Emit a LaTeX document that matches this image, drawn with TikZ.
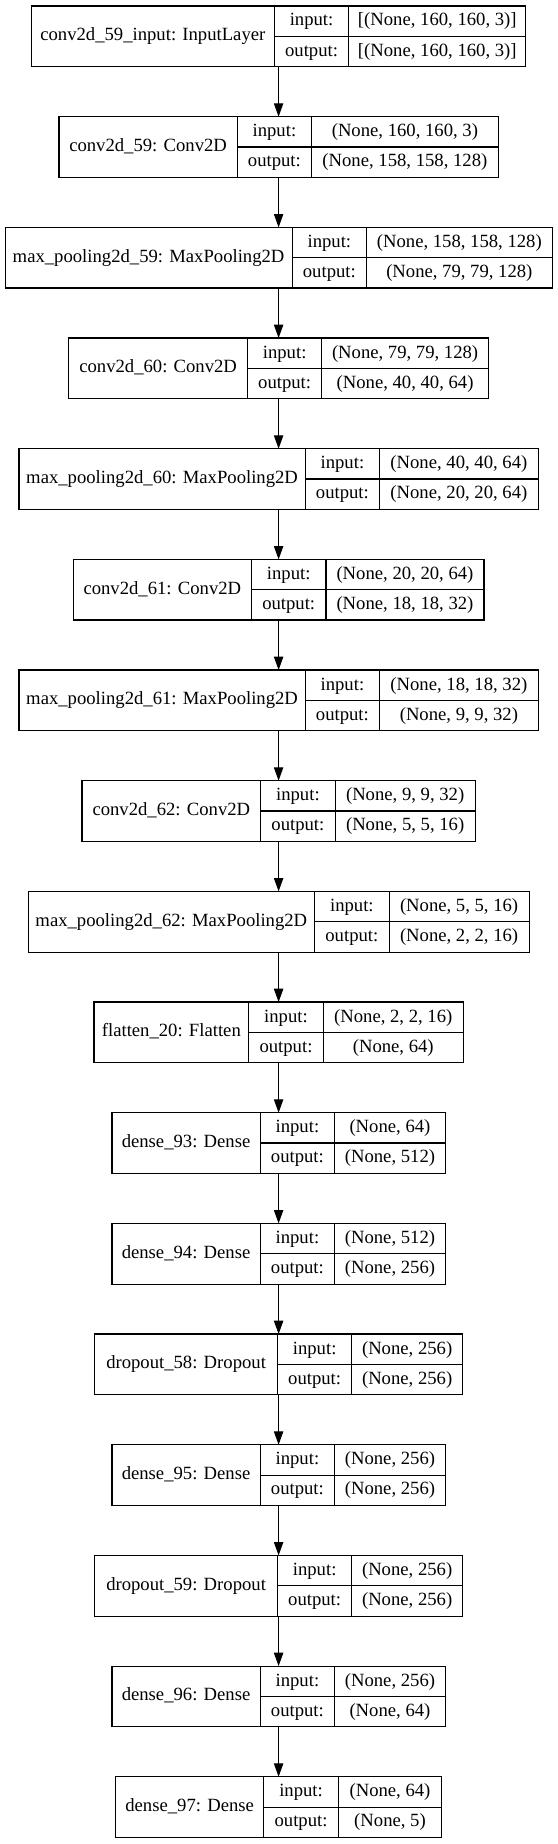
\documentclass[tikz,border=0pt]{standalone}
\usepackage{fontspec}
\setmainfont{Liberation Serif}
\usetikzlibrary{arrows.meta}
\tikzset{
  layerbox/.style={draw=black, line width=0.85pt, rectangle, inner sep=0pt, outer sep=0pt},
  cellline/.style={draw=black, line width=0.85pt},
  celltext/.style={anchor=base, inner sep=0pt, font=\fontsize{14pt}{16pt}\selectfont},
  flow/.style={draw=black, line width=0.85pt, -{Triangle[length=10pt,width=7pt]}},
}
% #1 name, #2 row index, #3 label column width, #4 value column width,
% #5 label, #6 input shape, #7 output shape
\newcommand{\mylayer}[7]{%
  \pgfmathsetmacro{\lw}{#3+74.5+#4}%
  \pgfmathsetmacro{\ltop}{6+110.67*#2}%
  \pgfmathsetmacro{\lleft}{278.6-\lw/2}%
  \pgfmathsetmacro{\lright}{278.6+\lw/2}%
  \pgfmathsetmacro{\da}{\lleft+#3}%
  \pgfmathsetmacro{\db}{\da+74.5}%
  \pgfmathsetmacro{\lbot}{\ltop+60.7}%
  \pgfmathsetmacro{\lmid}{\ltop+30.35}%
  \node[layerbox, minimum width={\lw*0.75pt}, minimum height={60.7*0.75pt}] (#1) at (278.6,\lmid) {};
  \draw[cellline] (\da,\ltop) -- (\da,\lbot) (\db,\ltop) -- (\db,\lbot) (\da,\lmid) -- (\lright,\lmid);
  \node[celltext] (#1name) at ({(\lleft+\da)/2},{\ltop+34.7}) {#5};
  \node[celltext] (#1in) at ({(\da+\db)/2},{\ltop+20}) {input:};
  \node[celltext] (#1inv) at ({(\db+\lright)/2},{\ltop+20}) {#6};
  \node[celltext] (#1out) at ({(\da+\db)/2},{\lmid+19.8}) {output:};
  \node[celltext] (#1outv) at ({(\db+\lright)/2},{\lmid+19.8}) {#7};
}
\begin{document}
\begin{tikzpicture}[x=0.75pt, y=-0.75pt]
\useasboundingbox (0,0) rectangle (557,1844);
\mylayer{L1}{0}{242.9}{177}{conv2d\_59\_input: InputLayer}{[(None, 160, 160, 3)]}{[(None, 160, 160, 3)]}
\mylayer{L2}{1}{178.1}{186.5}{conv2d\_59: Conv2D}{(None, 160, 160, 3)}{(None, 158, 158, 128)}
\mylayer{L3}{2}{287}{185.5}{max\_pooling2d\_59: MaxPooling2D}{(None, 158, 158, 128)}{(None, 79, 79, 128)}
\mylayer{L4}{3}{178.5}{166.4}{conv2d\_60: Conv2D}{(None, 79, 79, 128)}{(None, 40, 40, 64)}
\mylayer{L5}{4}{286.1}{158.5}{max\_pooling2d\_60: MaxPooling2D}{(None, 40, 40, 64)}{(None, 20, 20, 64)}
\mylayer{L6}{5}{178.2}{158}{conv2d\_61: Conv2D}{(None, 20, 20, 64)}{(None, 18, 18, 32)}
\mylayer{L7}{6}{286.1}{158.5}{max\_pooling2d\_61: MaxPooling2D}{(None, 18, 18, 32)}{(None, 9, 9, 32)}
\mylayer{L8}{7}{178.6}{140}{conv2d\_62: Conv2D}{(None, 9, 9, 32)}{(None, 5, 5, 16)}
\mylayer{L9}{8}{286.5}{140}{max\_pooling2d\_62: MaxPooling2D}{(None, 5, 5, 16)}{(None, 2, 2, 16)}
\mylayer{L10}{9}{154.8}{140}{flatten\_20: Flatten}{(None, 2, 2, 16)}{(None, 64)}
\mylayer{L11}{10}{148.2}{110.6}{dense\_93: Dense}{(None, 64)}{(None, 512)}
\mylayer{L12}{11}{148.2}{110.6}{dense\_94: Dense}{(None, 512)}{(None, 256)}
\mylayer{L13}{12}{182.6}{110.5}{dropout\_58: Dropout}{(None, 256)}{(None, 256)}
\mylayer{L14}{13}{148.2}{110.6}{dense\_95: Dense}{(None, 256)}{(None, 256)}
\mylayer{L15}{14}{182.6}{110.5}{dropout\_59: Dropout}{(None, 256)}{(None, 256)}
\mylayer{L16}{15}{148.2}{110.6}{dense\_96: Dense}{(None, 256)}{(None, 64)}
\mylayer{L17}{16}{148.3}{103.4}{dense\_97: Dense}{(None, 64)}{(None, 5)}
\foreach \a/\b in {L1/L2,L2/L3,L3/L4,L4/L5,L5/L6,L6/L7,L7/L8,L8/L9,L9/L10,L10/L11,L11/L12,L12/L13,L13/L14,L14/L15,L15/L16,L16/L17}
  \draw[flow] (\a.south) -- (\b.north);
\end{tikzpicture}
\end{document}
